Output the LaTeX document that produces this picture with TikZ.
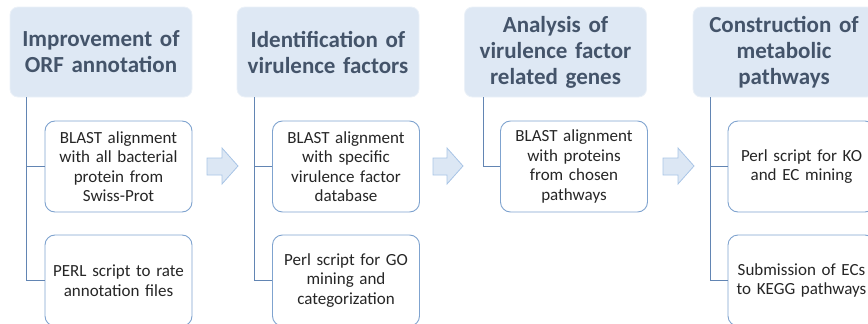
\documentclass[tikz,border=0pt]{standalone}
\usepackage{fontspec}
\setmainfont{Carlito}
\definecolor{hdrfill}{HTML}{DEE8F4}
\definecolor{hdrtext}{HTML}{44546A}
\definecolor{childedge}{HTML}{7FA3CF}
\definecolor{linecol}{HTML}{6285B3}
\definecolor{arrfill}{HTML}{DCE7F4}
\definecolor{arredge}{HTML}{A9C5E6}
\begin{document}
\begin{tikzpicture}[x=1pt,y=-1pt,
  hdr/.style={rectangle, rounded corners=8pt, fill=hdrfill, draw=hdrfill!60!white, line width=0.8pt,
    minimum width=182pt, minimum height=90pt, inner sep=0pt, text width=180pt, align=center,
    text=hdrtext, font=\fontsize{23}{26}\selectfont\bfseries},
  child/.style={rectangle, rounded corners=10pt, fill=white, draw=childedge, line width=0.9pt,
    minimum width=147pt, minimum height=91pt, inner sep=0pt, text width=145pt, align=center,
    text=black!85, font=\fontsize{17}{19.5}\selectfont},
  conn/.style={draw=linecol, line width=1pt},
  blockarrow/.style={fill=arrfill, draw=arredge, line width=0.8pt, line join=miter}]
\useasboundingbox (0,0) rectangle (868,324);
\clip (0,0) rectangle (868,324);
% headers
\node[hdr] (h1) at (101,52) {Improvement of\\ORF annotation};
\node[hdr] (h2) at (328,52) {Identification of\\virulence factors};
\node[hdr] (h3) at (555.5,52) {Analysis of\\virulence factor\\related genes};
\node[hdr] (h4) at (784,52) {Construction of\\metabolic\\pathways};
% children
\node[child] (c1a) at (118.5,166.5) {BLAST alignment\\with all bacterial\\protein from\\Swiss-Prot};
\node[child] (c1b) at (118.5,280.5) {PERL script to rate\\annotation files};
\node[child] (c2a) at (346,166.5) {BLAST alignment\\with specific\\virulence factor\\database};
\node[child] (c2b) at (346,280.5) {Perl script for GO\\mining and\\categorization};
\node[child] (c3a) at (574,166.5) {BLAST alignment\\with proteins\\from chosen\\pathways};
\node[child] (c4a) at (801.5,166.5) {Perl script for KO\\and EC mining};
\node[child] (c4b) at (801.5,280.5) {Submission of ECs\\to KEGG pathways};
% connectors
\draw[conn] ([xshift=17pt]h1.south west) |- (c1a.west);
\draw[conn] ([xshift=17pt]h1.south west) |- (c1b.west);
\draw[conn] ([xshift=18pt]h2.south west) |- (c2a.west);
\draw[conn] ([xshift=18pt]h2.south west) |- (c2b.west);
\draw[conn] ([xshift=19pt]h3.south west) |- (c3a.west);
\draw[conn] ([xshift=18pt]h4.south west) |- (c4a.west);
\draw[conn] ([xshift=18pt]h4.south west) |- (c4b.west);
% block arrows
\foreach \x/\b/\t in {207/222/238, 433/447/463, 663/678/694}{
  \draw[blockarrow] (\x,158) -- (\b,158) -- (\b,148) -- (\t,166) -- (\b,184) -- (\b,175) -- (\x,175) -- cycle;
}
\end{tikzpicture}
\end{document}
